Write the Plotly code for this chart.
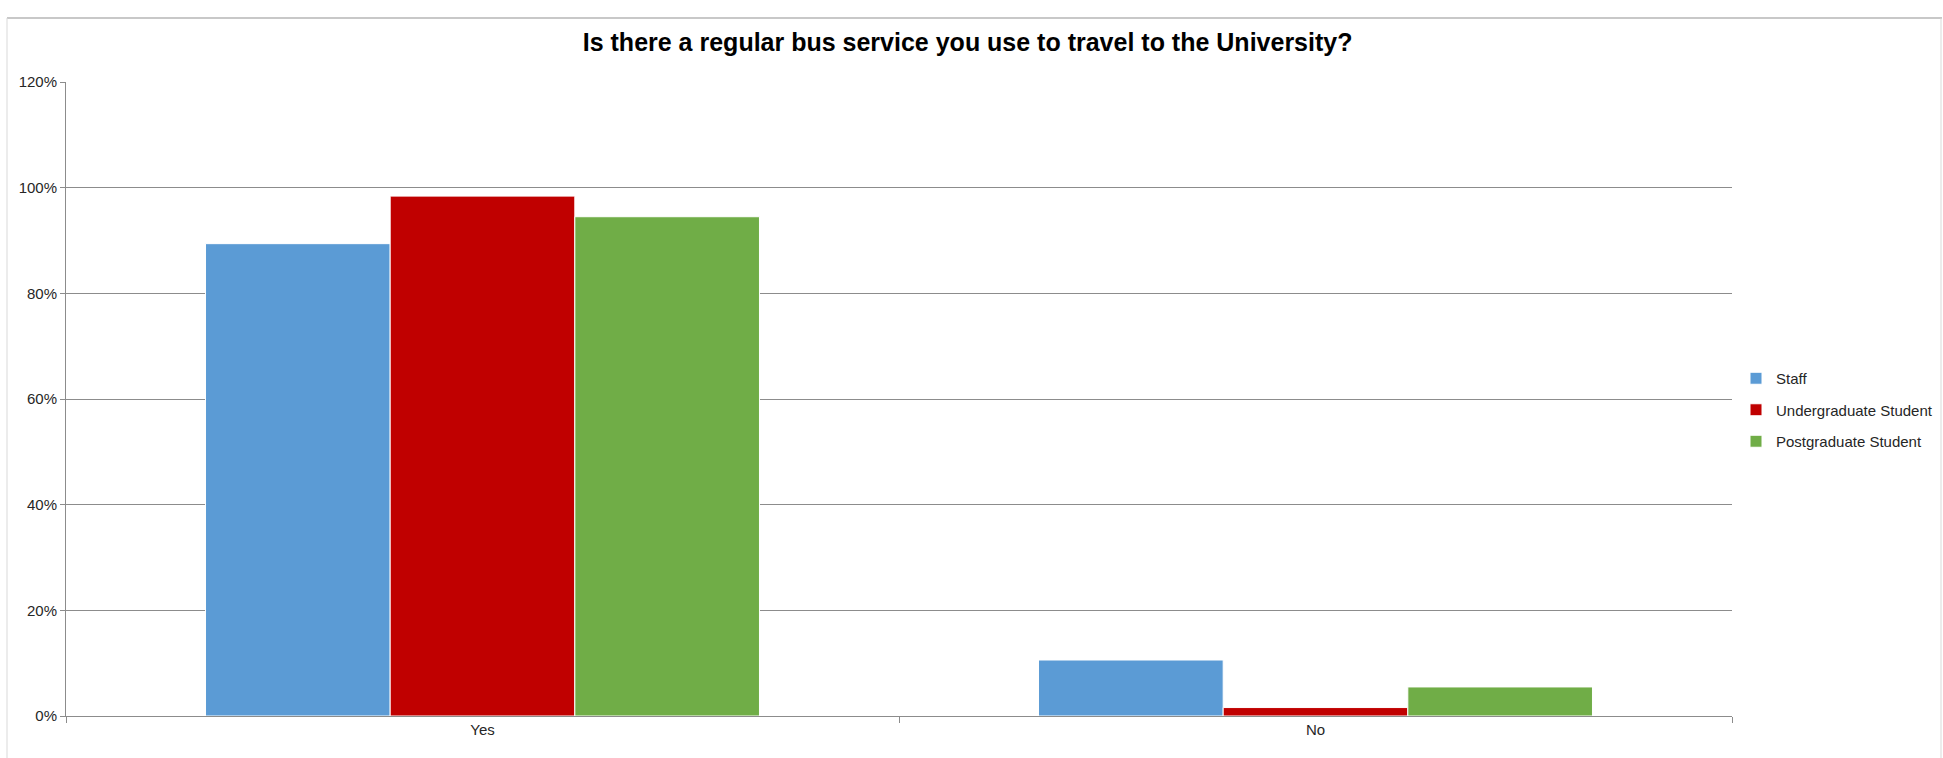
import plotly.graph_objects as go

categories = ["Yes", "No"]
series_names = ["Staff", "Undergraduate Student", "Postgraduate Student"]
staff = [0.894, 0.106]
undergrad = [0.984, 0.016]
postgrad = [0.945, 0.055]
colors = ["#5B9BD5", "#C00000", "#70AD47"]
y_ticks = [0, 0.2, 0.4, 0.6, 0.8, 1.0, 1.2]
y_tick_labels = ["0%", "20%", "40%", "60%", "80%", "100%", "120%"]

FONT = "Liberation Sans, Arial, sans-serif"

fig = go.Figure()
for name, vals, col in zip(series_names, [staff, undergrad, postgrad], colors):
    fig.add_trace(go.Bar(
        x=categories, y=vals, name=name, legendgroup=name,
        marker=dict(color=col, line=dict(color="white", width=1)),
    ))

W, H = 1943, 758
L, R, T, B = 66, 211, 82, 42
pw = W - L - R
ph = H - T - B

fig.update_layout(
    width=W, height=H,
    margin=dict(l=L, r=R, t=T, b=B, pad=0, autoexpand=False),
    paper_bgcolor="white", plot_bgcolor="white",
    barmode="group", bargap=0.335, bargroupgap=0,
    font=dict(family=FONT, size=15, color="#262626"),
    title=dict(
        text="<b>Is there a regular bus service you use to travel to the University?</b>",
        x=0.498, xanchor="center", y=1 - 42 / H, yanchor="middle",
        font=dict(family=FONT, size=25, color="#000000"),
    ),
    legend=dict(
        x=(1736 - L) / pw, xanchor="left",
        y=(H - B - 410) / ph, yanchor="middle",
        font=dict(family=FONT, size=15, color="#262626"),
        itemwidth=30, traceorder="grouped", tracegroupgap=9,
        bgcolor="rgba(0,0,0,0)",
    ),
    xaxis=dict(
        showline=True, linecolor="#8c8c8c", linewidth=1,
        ticks="outside", tickson="boundaries", ticklen=6, tickcolor="#8c8c8c",
        showgrid=False, tickfont=dict(size=15, color="#262626"),
    ),
    yaxis=dict(
        range=[0, 1.2], tickvals=y_ticks, ticktext=y_tick_labels,
        showline=True, linecolor="#8c8c8c", linewidth=1,
        ticks="outside", ticklen=5, tickcolor="#8c8c8c",
        showgrid=True, gridcolor="#8c8c8c", gridwidth=1,
        zeroline=False, tickfont=dict(size=15, color="#262626"),
    ),
    shapes=[
        dict(type="line", xref="paper", yref="paper",
             x0=(7 - L) / pw, x1=(1942 - L) / pw,
             y0=(H - B - 18) / ph, y1=(H - B - 18) / ph,
             line=dict(color="#c8c8c8", width=2)),
        dict(type="line", xref="paper", yref="paper",
             x0=(7 - L) / pw, x1=(7 - L) / pw,
             y0=(H - B - 18) / ph, y1=(H - B - 760) / ph,
             line=dict(color="#d9d9d9", width=1)),
        dict(type="line", xref="paper", yref="paper",
             x0=(1941 - L) / pw, x1=(1941 - L) / pw,
             y0=(H - B - 18) / ph, y1=(H - B - 760) / ph,
             line=dict(color="#d9d9d9", width=1)),
    ],
)

fig.write_html("out.html")
